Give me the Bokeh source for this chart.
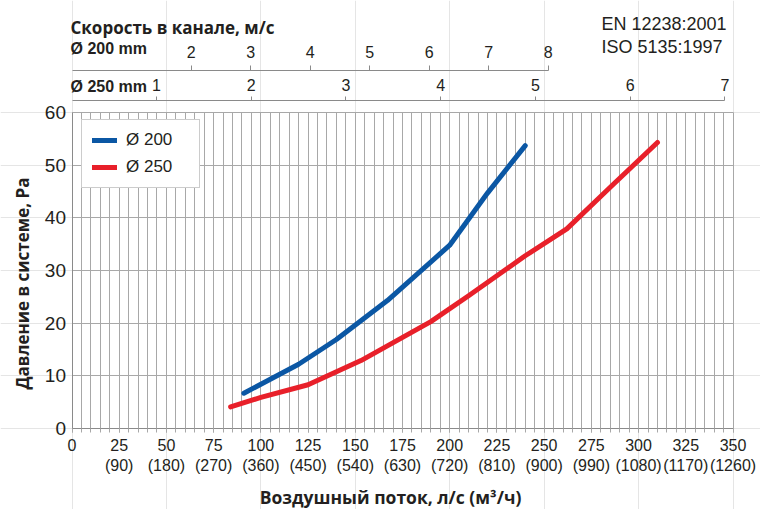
from bokeh.plotting import figure
from bokeh.models import (Range1d, LinearAxis, FixedTicker, SingleIntervalTicker,
                          Legend, LegendItem, Label, Grid)
from bokeh.embed import file_html
from bokeh.resources import INLINE
import math

# ---- data ----
flow_200 = [91, 120, 140, 167, 200, 220, 240]
pressure_200 = [6.7, 12.2, 16.9, 24.3, 34.8, 44.7, 53.7]

flow_250 = [84, 100, 125, 153, 190, 210, 240, 262, 285, 310]
pressure_250 = [4.1, 5.9, 8.3, 12.9, 20.3, 25.2, 32.8, 37.9, 45.8, 54.3]

x_ticks = [0, 25, 50, 75, 100, 125, 150, 175, 200, 225, 250, 275, 300, 325, 350]
x_tick_m3h = ["", "(90)", "(180)", "(270)", "(360)", "(450)", "(540)", "(630)", "(720)",
              "(810)", "(900)", "(990)", "(1080)", "(1170)", "(1260)"]
y_ticks = [0, 10, 20, 30, 40, 50, 60]

v200_ticks = [2, 3, 4, 5, 6, 7, 8]
v250_ticks = [1, 2, 3, 4, 5, 6, 7]

BLUE = "#0b57a4"
RED = "#e8202a"
GRID = "#a8a8a8"
AXIS = "#8a8a8a"
TEXT = "#231f20"
NUM_FONT = "Liberation Sans"
BOLD_FONT = "Open Sans"

W, H = 760, 509
# pixel layout of the plotting area (the frame covers the whole canvas)
X0, KX = 71.5, 661 / 350      # x=0 at px 71.5, px per l/s
Y0, KY = 428.0, 316 / 60      # y=0 at px 428, px per Pa
V200_PX0, V200_K = 71.8, 59.48    # px of 0 m/s and px per m/s, Ø200 scale
V250_PX0, V250_K = 61.17, 94.757  # px of 0 m/s and px per m/s, Ø250 scale


def dx(px):
    return (px - X0) / KX


def dy(py):
    return (Y0 - py) / KY


p = figure(width=W, height=H, x_range=Range1d(dx(0), dx(W)), y_range=Range1d(dy(H), dy(0)),
           output_backend="svg", toolbar_location=None,
           x_axis_location=None, y_axis_location=None,
           min_border=0, min_border_left=0, min_border_right=0, min_border_top=0, min_border_bottom=0)
p.outline_line_color = None
p.background_fill_color = "white"
p.border_fill_color = "white"

# ---- grids (limited to the data area) ----
grid_x = list(range(0, 351, 5))
try:
    xgrid = Grid(dimension=0, ticker=FixedTicker(ticks=grid_x), cross_bounds=(0, 60),
                 grid_line_color=GRID, grid_line_width=1)
    ygrid = Grid(dimension=1, ticker=FixedTicker(ticks=y_ticks), cross_bounds=(0, 350),
                 grid_line_color=GRID, grid_line_width=1)
    p.add_layout(xgrid)
    p.add_layout(ygrid)
except Exception:
    p.segment(x0=grid_x, y0=[0] * len(grid_x), x1=grid_x, y1=[60] * len(grid_x),
              line_color=GRID, line_width=1)
    p.segment(x0=[0] * len(y_ticks), y0=y_ticks, x1=[350] * len(y_ticks), y1=y_ticks,
              line_color=GRID, line_width=1)

# ---- bottom axis ----
xa = LinearAxis(fixed_location=0, bounds=(0, 350),
                ticker=SingleIntervalTicker(interval=25, num_minor_ticks=5))
xa.major_label_overrides = {t: (str(t) if not m else f"{t}\n{m}") for t, m in zip(x_ticks, x_tick_m3h)}
xa.major_tick_out = 4
xa.major_tick_in = 0
xa.minor_tick_out = 4
xa.minor_tick_in = 0
xa.major_tick_line_color = GRID
xa.minor_tick_line_color = GRID
xa.axis_line_color = AXIS
xa.major_label_text_font = NUM_FONT
xa.major_label_text_font_size = "16px"
xa.major_label_text_color = TEXT
xa.major_label_standoff = 4
p.add_layout(xa, "below")

# ---- left axis ----
ya = LinearAxis(fixed_location=0, bounds=(0, 60), ticker=FixedTicker(ticks=y_ticks))
ya.major_tick_out = 0
ya.major_tick_in = 0
ya.minor_tick_line_color = None
ya.axis_line_color = AXIS
ya.major_label_text_font = NUM_FONT
ya.major_label_text_font_size = "19px"
ya.major_label_text_color = TEXT
ya.major_label_standoff = 6
p.add_layout(ya, "left")

# ---- top velocity axes ----
p.extra_x_ranges = {
    "v200": Range1d((0 - V200_PX0) / V200_K, (W - V200_PX0) / V200_K),
    "v250": Range1d((0 - V250_PX0) / V250_K, (W - V250_PX0) / V250_K),
}
ax200 = LinearAxis(x_range_name="v200", fixed_location=dy(70), ticker=FixedTicker(ticks=v200_ticks),
                   bounds=((X0 - V200_PX0) / V200_K, 8), axis_line_color=AXIS, major_tick_line_color=AXIS,
                   major_tick_out=5, major_tick_in=0, minor_tick_out=0, minor_tick_in=0,
                   major_label_standoff=8, major_label_text_font=NUM_FONT,
                   major_label_text_font_size="16px", major_label_text_color=TEXT)
ax250 = LinearAxis(x_range_name="v250", fixed_location=dy(100), ticker=FixedTicker(ticks=v250_ticks),
                   bounds=((X0 - V250_PX0) / V250_K, 7),
                   axis_line_color=AXIS, major_tick_line_color=AXIS,
                   major_tick_out=4, major_tick_in=0, minor_tick_out=0, minor_tick_in=0,
                   major_label_standoff=6, major_label_text_font=NUM_FONT,
                   major_label_text_font_size="16px", major_label_text_color=TEXT)
p.add_layout(ax200, "above")
p.add_layout(ax250, "above")

# ---- curves ----
r200 = p.line(flow_200, pressure_200, line_color=BLUE, line_width=5, line_cap="round", line_join="round")
r250 = p.line(flow_250, pressure_250, line_color=RED, line_width=5, line_cap="round", line_join="round")

legend = Legend(items=[LegendItem(label="Ø 200", renderers=[r200]),
                       LegendItem(label="Ø 250", renderers=[r250])],
                location=(81, H - 188), margin=0, padding=10, spacing=7,
                glyph_width=25, glyph_height=18, label_standoff=9, label_width=63, label_height=18,
                label_text_font=NUM_FONT, label_text_font_size="17px", label_text_color=TEXT,
                label_text_baseline="middle",
                border_line_color="#9a9a9a", border_line_width=1, background_fill_alpha=1)
p.add_layout(legend)


# ---- texts ----
def add_text(txt, px, py, size, bold=False, font=NUM_FONT, align="left", angle=0.0, baseline="alphabetic"):
    p.add_layout(Label(x=dx(px), y=dy(py), text=txt,
                       text_font=font, text_font_size=size,
                       text_font_style="bold" if bold else "normal",
                       text_color=TEXT, text_align=align, text_baseline=baseline, angle=angle))


add_text("Скорость в канале, м/с", 70, 26.5, "17px", bold=True, font=BOLD_FONT)
add_text("Ø 200 mm", 70, 48, "16px", bold=True)
add_text("Ø 250 mm", 70, 86, "16px", bold=True)
add_text("EN 12238:2001", 601, 23.5, "18px")
add_text("ISO 5135:1997", 601, 46, "18px")
add_text("Воздушный поток, л/с (м³/ч)", 390, 496, "17.5px", bold=True, font=BOLD_FONT, align="center")
add_text("Давление в системе, Pa", 22, 283, "17px", bold=True, font=BOLD_FONT, align="center",
         angle=math.pi / 2, baseline="middle")

open("out.html", "w").write(file_html(p, INLINE))
